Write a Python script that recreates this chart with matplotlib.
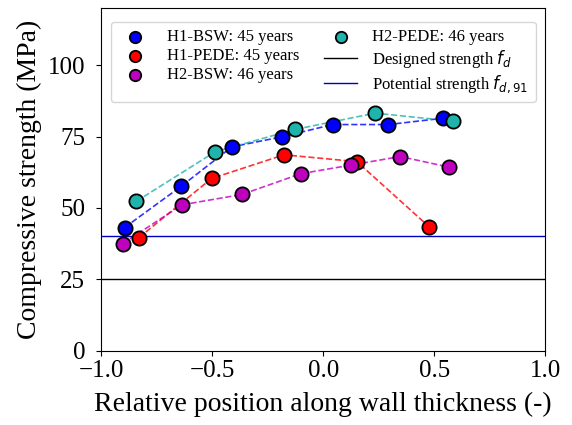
import numpy as np
import matplotlib.pyplot as plt

plt.rcParams['font.family'] = 'Liberation Serif'
plt.rcParams['mathtext.fontset'] = 'dejavusans'

# relative position / compressive strength (MPa)
h1_bsw_x = [-0.895, -0.641, -0.411, -0.185, 0.042, 0.294, 0.539]
h1_bsw_y = [43.1, 57.5, 71.4, 74.9, 79.2, 79.2, 81.4]
h1_pede_x = [-0.83, -0.503, -0.176, 0.152, 0.477]
h1_pede_y = [39.6, 60.3, 68.6, 66.2, 43.4]
h2_bsw_x = [-0.904, -0.635, -0.366, -0.10, 0.126, 0.347, 0.566]
h2_bsw_y = [37.5, 51.1, 54.7, 62.0, 65.0, 68.0, 64.3]
h2_pede_x = [-0.842, -0.486, -0.126, 0.234, 0.584]
h2_pede_y = [52.3, 69.7, 77.5, 83.2, 80.4]

f_d = 25
f_d91 = 40

series = [
    (h1_bsw_x, h1_bsw_y, 'b', 'H1-BSW: 45 years'),
    (h1_pede_x, h1_pede_y, 'r', 'H1-PEDE: 45 years'),
    (h2_bsw_x, h2_bsw_y, 'm', 'H2-BSW: 46 years'),
    (h2_pede_x, h2_pede_y, '#1fb3ab', 'H2-PEDE: 46 years'),
]

fig = plt.figure(figsize=(5.72, 4.25), dpi=100)
ax = fig.add_subplot(111)

handles = []
for x, y, c, lab in series:
    ax.plot(x, y, '--', color=c, alpha=0.8, linewidth=1.2)
    h = ax.scatter(x, y, s=105, color=c, edgecolors='k', linewidths=1.3, zorder=3, label=lab)
    handles.append(h)

l1 = ax.axhline(f_d, color='k', linewidth=1, label='Designed strength $f_d$')
l2 = ax.axhline(f_d91, color='#0000c0', linewidth=1, label='Potential strength $f_{d,91}$')
handles += [l1, l2]

ax.set_xlim(-1, 1)
ax.set_ylim(0, 120)
ax.set_xticks([-1.0, -0.5, 0.0, 0.5, 1.0])
ax.set_yticks([0, 25, 50, 75, 100])
ax.tick_params(labelsize=18)
ax.tick_params(axis='y', pad=8)
ax.set_xlabel('Relative position along wall thickness (-)', fontsize=20, labelpad=7)
ax.set_ylabel('Compressive strength (MPa)', fontsize=20, labelpad=4)
ax.legend(handles=handles, ncol=2, loc='upper center', fontsize=12,
          bbox_to_anchor=(0.5, 0.985), columnspacing=1.5, handletextpad=0.9,
          borderpad=0.45, labelspacing=0.18, markerscale=0.8)

fig.subplots_adjust(left=0.177, right=0.953, top=0.981, bottom=0.175)
plt.savefig('out.png', dpi=100)
